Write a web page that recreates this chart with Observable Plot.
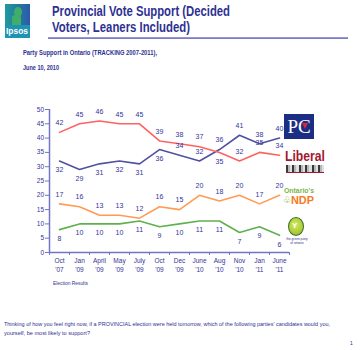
<!DOCTYPE html>
<html><head><meta charset="utf-8">
<script src="https://cdn.jsdelivr.net/npm/d3@7"></script>
<script src="https://cdn.jsdelivr.net/npm/@observablehq/plot@0.6"></script>
<style>
html,body{margin:0;padding:0;background:#fff;}
#page{position:relative;width:360px;height:350px;overflow:hidden;font-family:"Liberation Sans",Arial,sans-serif;color:#2e3192;}
.abs{position:absolute;white-space:nowrap;}
.fit{display:inline-block;transform-origin:0 50%;white-space:nowrap;}
</style></head><body>
<div id="page">
  <div class="abs" style="left:5px;top:4px;width:25px;height:34px;background:#1e93b2;overflow:hidden;">
    <div style="position:absolute;left:0;top:0;width:25px;height:21px;background:linear-gradient(90deg,#1f9a9c,#2b5aa8);"></div>
    <div style="position:absolute;left:9px;top:3px;width:8px;height:10px;border-radius:50%;background:#3fae6a;"></div>
    <div style="position:absolute;left:7px;top:11px;width:9px;height:10px;background:#3fae6a;border-radius:3px 3px 0 0;"></div>
    <div style="position:absolute;left:1px;top:22px;font:bold 9px 'Liberation Sans',Arial,sans-serif;color:#fff;line-height:10px;"><span class="fit" data-w="22">Ipsos</span></div>
  </div>
  <div class="abs" style="left:52px;top:3px;font-weight:bold;font-size:14.5px;line-height:16px;color:#2e3192;">
    <span class="fit" data-w="178">Provincial Vote Support (Decided</span><br>
    <span class="fit" data-w="138">Voters, Leaners Included)</span>
  </div>
  <div class="abs" style="left:48px;top:37px;width:300px;height:2px;background:linear-gradient(#a4a4dc,#6f6fc2);"></div>
  <div class="abs" style="left:23px;top:49px;font-weight:bold;font-size:7px;line-height:8px;"><span class="fit" data-w="134">Party Support in Ontario (TRACKING 2007-2011),</span></div>
  <div class="abs" style="left:23px;top:64px;font-weight:bold;font-size:7px;line-height:8px;"><span class="fit" data-w="36">June 10, 2010</span></div>

  <div class="abs" id="chart" style="left:0;top:95px;"></div>

  <div class="abs" style="left:53px;top:280px;font-size:5px;line-height:6px;"><span class="fit" data-w="35">Election Results</span></div>

  <!-- party logos -->
  <div class="abs" style="left:284px;top:114px;width:30px;height:25px;background:#1c2d84;overflow:hidden;">
    <div style="position:absolute;left:0;top:0;width:30px;text-align:center;font:19px 'Liberation Serif','DejaVu Serif',serif;line-height:26px;color:#fff;">PC</div>
    <div style="position:absolute;left:18px;top:9px;width:0;height:0;border-left:3px solid transparent;border-right:3px solid transparent;border-top:6px solid #d8263a;"></div>
  </div>
  <div class="abs" style="left:285px;top:148px;font-weight:bold;font-size:15px;line-height:16px;color:#a3182f;"><span class="fit" data-w="40">Liberal</span></div>
  <div class="abs" style="left:286px;top:165px;width:38px;height:7px;background:repeating-linear-gradient(90deg,#3a3a3a 0 2px,#b8b8b8 2px 4px,#e0e0e0 4px 6.5px);border-bottom:1px solid #a3182f;"></div>
  <div class="abs" style="left:284px;top:186px;font-weight:bold;font-size:8px;line-height:9px;color:#7ab648;"><span class="fit" data-w="30">Ontario's</span></div>
  <div class="abs" style="left:283px;top:196px;font-size:9px;line-height:9px;color:#6aa83e;">♧</div>
  <div class="abs" style="left:291px;top:196px;font-weight:bold;font-size:10px;line-height:10px;color:#f47b20;"><span class="fit" data-w="23">NDP</span></div>
  <div class="abs" style="left:288px;top:217px;width:14px;height:17px;border-radius:50%;border:1.5px solid #3d6b1f;background:radial-gradient(circle at 45% 40%,#d6ea5a,#8cb82a);"></div>
  <div class="abs" style="left:292px;top:221px;font:bold 8px 'Liberation Sans',Arial,sans-serif;color:#fff;line-height:9px;">Y</div>
  <div class="abs" style="left:286px;top:238px;font-size:3.2px;line-height:3.6px;color:#2e3192;text-align:center;width:22px;">the green party<br>of ontario</div>

  <div class="abs" style="left:4px;top:320px;font-size:6px;line-height:8px;"><span class="fit" data-w="326">Thinking of how you feel right now, if a PROVINCIAL election were held tomorrow, which of the following parties' candidates would you,</span></div>
  <div class="abs" style="left:4px;top:329px;font-size:6px;line-height:8px;"><span class="fit" data-w="86">yourself, be most likely to support?</span></div>
  <div class="abs" style="left:350px;top:340px;font-size:5px;line-height:6px;">1</div>
</div>
<script>
// ---- data ----
const periods = ["Oct '07","Jan '09","April '09","May '09","July '09","Oct '09","Dec '09","June '10","Aug '10","Nov '10","Jan '11","June '11"];
const monthLabels = ["Oct","Jan","April","May","July","Oct","Dec","June","Aug","Nov","Jan","June"];
const yearLabels = ["'07","'09","'09","'09","'09","'09","'09","'10","'10","'10","'11","'11"];
const parties = ["PC","Liberal","NDP","Green"];
const pc = [32,29,31,32,31,36,34,32,36,41,38,40];
const liberal = [42,45,46,45,45,39,38,37,35,32,35,34];
const ndp = [17,16,13,13,12,16,15,20,18,20,17,20];
const greenParty = [8,10,10,10,11,9,10,11,11,7,9,6];
const yTicks = [0,5,10,15,20,25,30,35,40,45,50];

const partyColors = ["#5151a2","#ff6262","#ff9b55","#5fb14f"];
const axisColor = "#7474c6";
const textColor = "#34349a";

const valuesByParty = {PC: pc, Liberal: liberal, NDP: ndp, Green: greenParty};
const rows = parties.flatMap(p => valuesByParty[p].map((v, i) => ({party: p, i, period: periods[i], value: v})));

// label placement: above or below the line
function above(d) {
  if (d.party === "Liberal") return d.i !== 8;
  if (d.party === "PC") return d.i >= 6;
  if (d.party === "NDP") return true;
  return false;
}

const font = "'Liberation Sans', Arial, sans-serif";
const idx = periods.map((p, i) => i);
const bounds = d3.range(periods.length + 1).map(k => k - 0.5);

const chart = Plot.plot({
  width: 360,
  height: 200,
  marginLeft: 49,
  marginRight: 71,
  marginTop: 14,
  marginBottom: 43,
  style: {fontFamily: font, background: "transparent", overflow: "visible"},
  x: {domain: [-0.5, periods.length - 0.5], axis: null},
  y: {domain: [0, 50], axis: null},
  color: {domain: parties, range: partyColors},
  marks: [
    Plot.ruleY([0], {stroke: axisColor, strokeWidth: 1.5}),
    Plot.ruleX([-0.5], {stroke: axisColor, strokeWidth: 1.5}),
    Plot.axisY({ticks: yTicks, tickSize: 4, tickPadding: 1.5, stroke: axisColor, fill: textColor, fontSize: 6.5, label: null}),
    Plot.axisX({ticks: bounds, tickSize: 3, stroke: axisColor, fill: "none", label: null}),
    Plot.text(idx, {x: i => i, frameAnchor: "bottom", text: i => monthLabels[i], dy: 10, fill: textColor, fontSize: 6.5}),
    Plot.text(idx, {x: i => i, frameAnchor: "bottom", text: i => yearLabels[i], dy: 19, fill: textColor, fontSize: 6.5}),
    Plot.line(rows, {x: "i", y: "value", z: "party", stroke: "party", strokeWidth: 1.6}),
    Plot.text(rows, {filter: d => above(d), x: "i", y: "value", text: d => String(d.value), dy: -9.5, fill: textColor, fontSize: 7}),
    Plot.text(rows, {filter: d => !above(d), x: "i", y: "value", text: d => String(d.value), dy: 9, fill: textColor, fontSize: 7})
  ]
});
document.getElementById("chart").appendChild(chart);

// fit condensed text widths
document.querySelectorAll(".fit").forEach(el => {
  const target = +el.dataset.w;
  const w = el.getBoundingClientRect().width;
  if (w > 0) el.style.transform = `scaleX(${target / w})`;
});
</script>
</body></html>
